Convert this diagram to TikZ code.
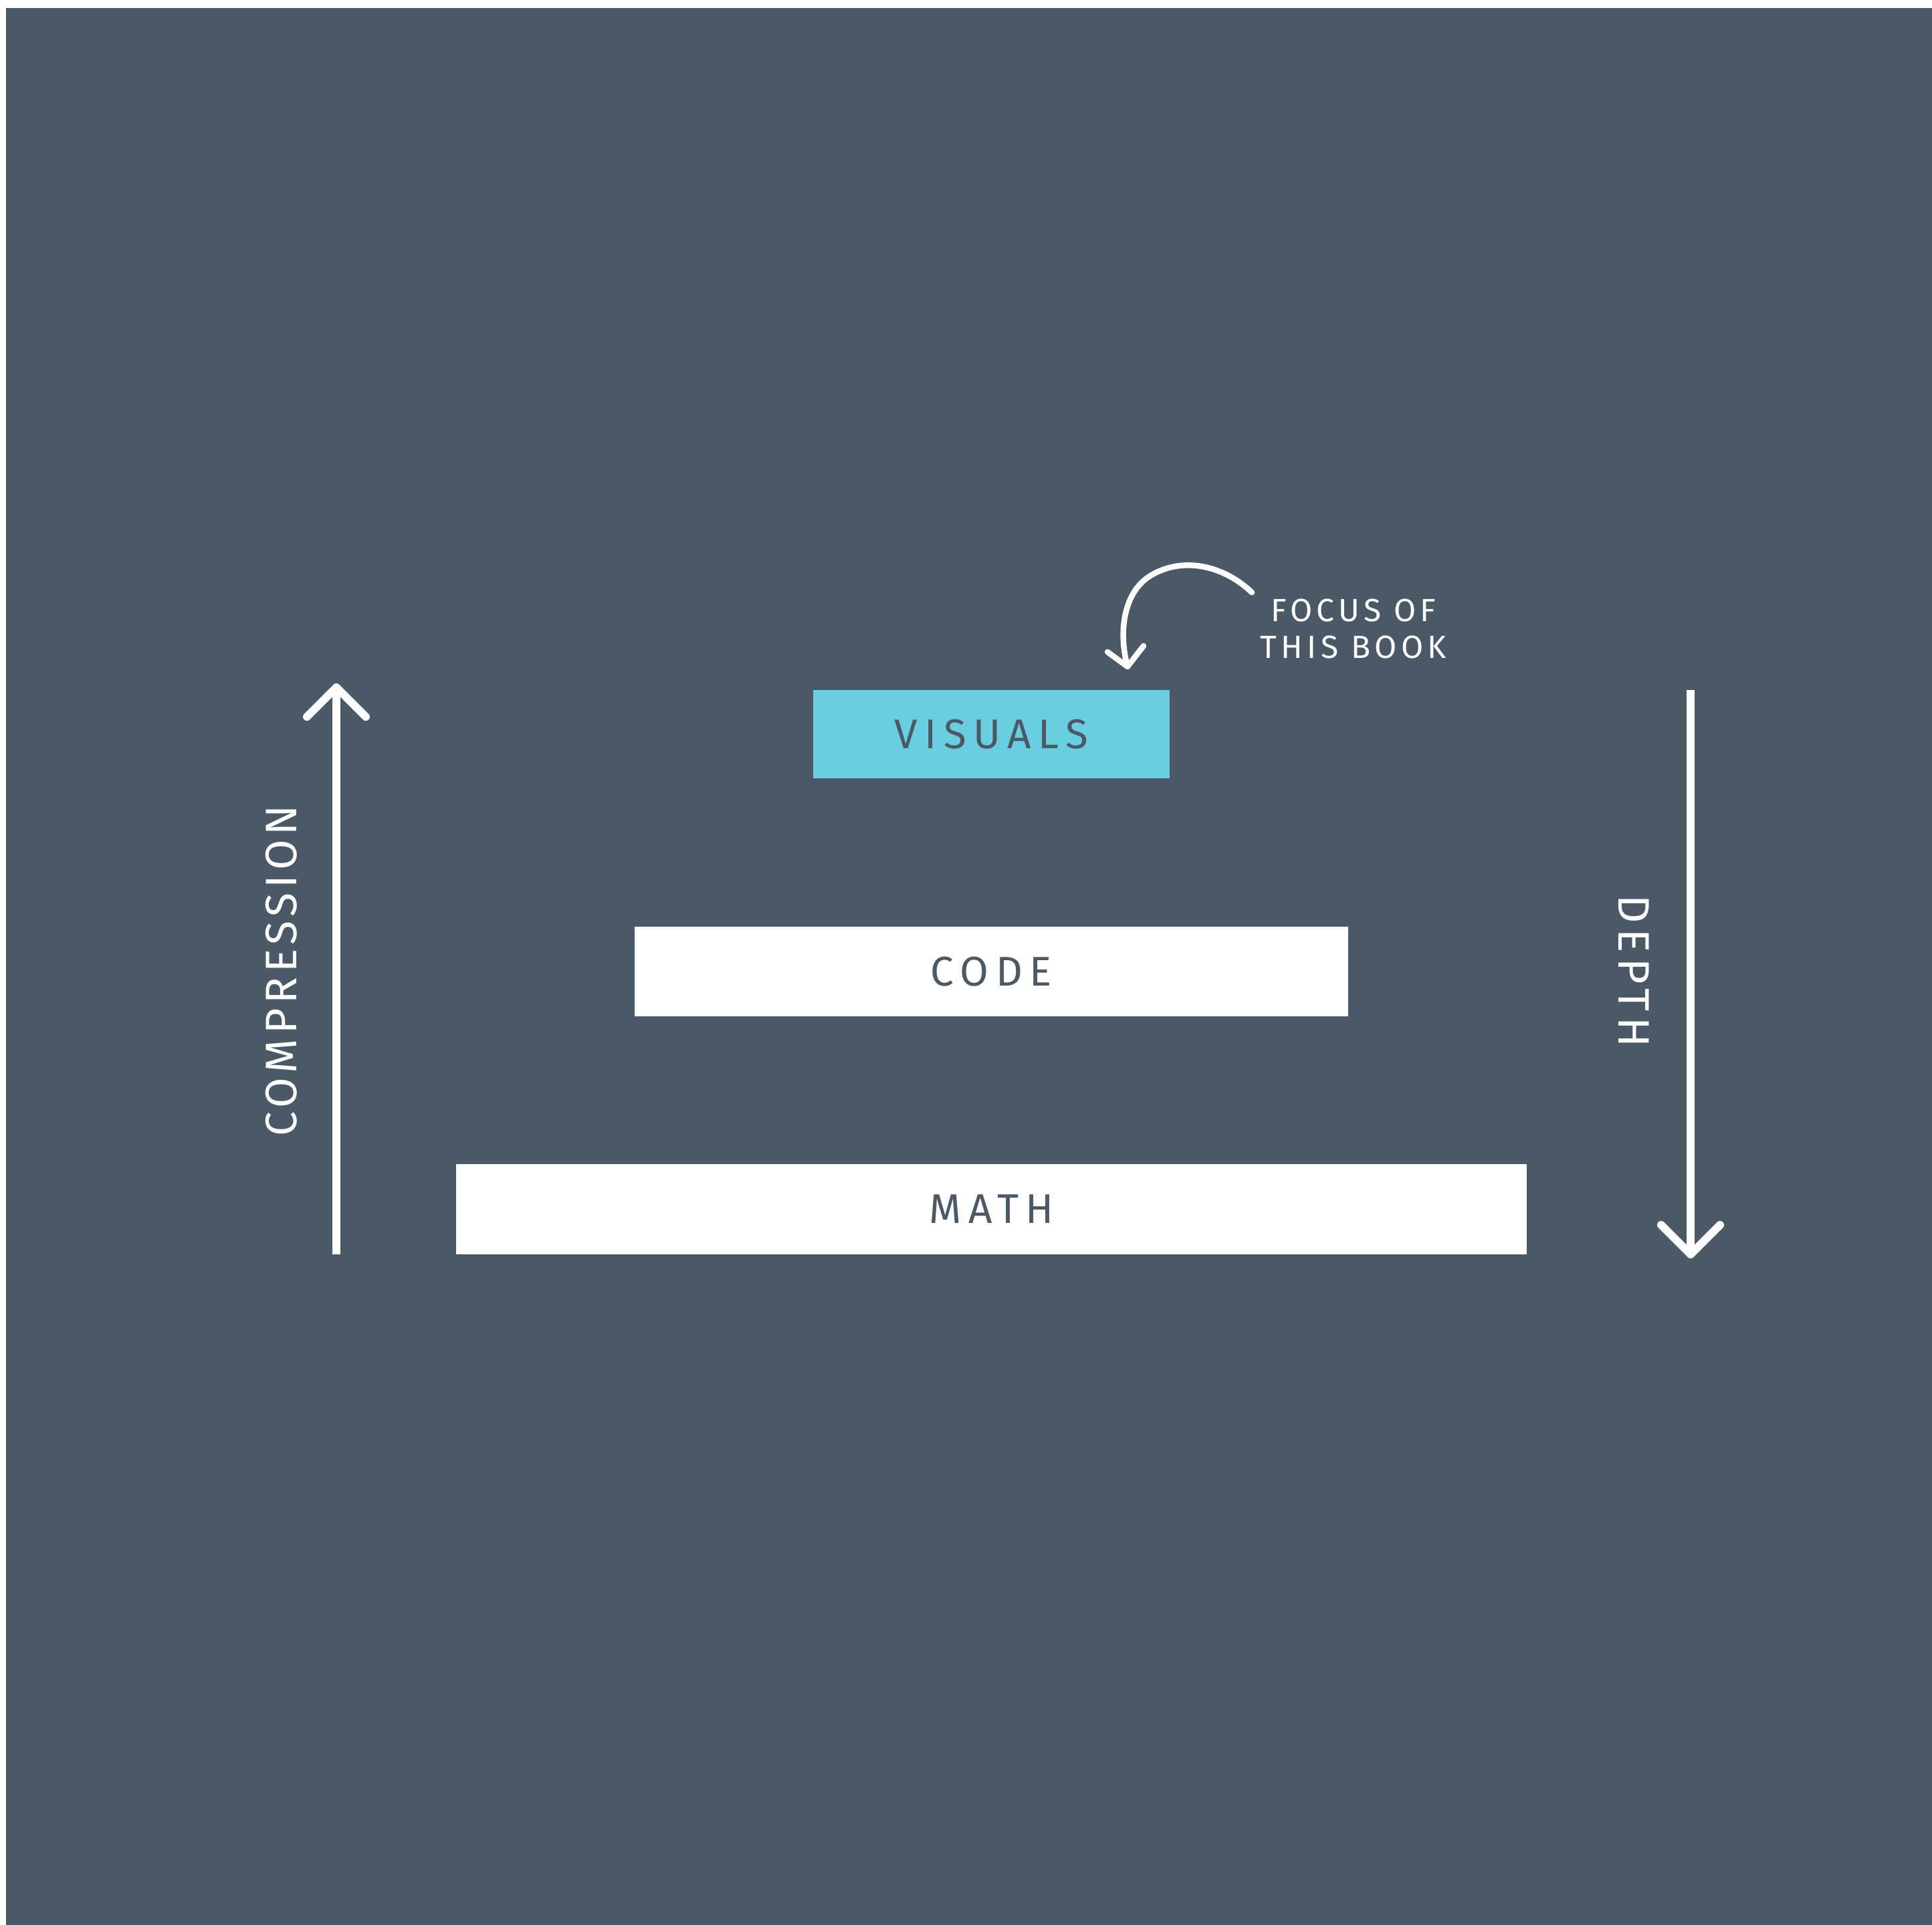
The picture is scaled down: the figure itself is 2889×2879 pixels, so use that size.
\documentclass[tikz,border=0pt]{standalone}
\usepackage{fontspec}
\setmainfont{Fira Sans}
\newfontfamily\boxfont[LetterSpace=17]{Fira Sans}
\newfontfamily\compfont[LetterSpace=10.5]{Fira Sans}
\newfontfamily\depthfont[LetterSpace=13]{Fira Sans}
\newfontfamily\focusfont[LetterSpace=13]{Fira Sans}
\definecolor{bgslate}{HTML}{4B5866}
\definecolor{cyanbox}{HTML}{69CEE0}
\begin{document}
\begin{tikzpicture}[x=1pt,y=-1pt,
  layer/.style={rectangle, inner sep=0pt, text=bgslate, font=\boxfont\fontsize{62}{70}\selectfont},
  axislabel/.style={text=white, inner sep=0pt},
  axisline/.style={draw=white, line width=12pt},
  headline/.style={draw=white, line width=12pt, line cap=round, line join=round},
  focusline/.style={draw=white, line width=8.5pt, line cap=round, line join=round}]
\useasboundingbox (0,0) rectangle (2889,2879);
\fill[white] (0,0) rectangle (2889,2879);
\fill[bgslate] (9,12) rectangle (2889,2879);
% layers
\node[layer, fill=cyanbox, minimum width=533pt, minimum height=132pt] (visuals) at (1482.5,1098) {VISUALS};
\node[layer, fill=white, minimum width=1067pt, minimum height=134pt] (code) at (1482.5,1453) {CODE};
\node[layer, fill=white, minimum width=1601pt, minimum height=135pt] (math) at (1482.5,1808.5) {MATH};
% compression arrow
\coordinate (cbot) at (503,1876);
\coordinate (ctop) at (503,1028);
\coordinate (cl) at (459,1072);
\coordinate (cr) at (547,1072);
\draw[axisline] (cbot) -- (ctop);
\draw[headline] (cl) -- (ctop) -- (cr);
\node[axislabel, rotate=90, font=\compfont\fontsize{66}{74}\selectfont] (comp) at (421,1452) {COMPRESSION};
% depth arrow
\coordinate (dtop) at (2528,1032);
\coordinate (dbot) at (2528,1876);
\coordinate (dl) at (2484,1832);
\coordinate (dr) at (2572,1832);
\draw[axisline] (dtop) -- (dbot);
\draw[headline] (dl) -- (dbot) -- (dr);
\node[axislabel, rotate=-90, font=\depthfont\fontsize{66}{74}\selectfont] (depth) at (2443,1452) {DEPTH};
% focus annotation
\node[text=white, inner sep=0pt, align=center, font=\focusfont\fontsize{48}{55}\selectfont] (focus) at (2024,940) {FOCUS OF\\THIS BOOK};
\coordinate (fstart) at (1872,886);
\coordinate (ftip) at (1686,997);
\coordinate (fa) at (1656,975);
\coordinate (fb) at (1710,966);
\draw[focusline] (fstart) .. controls (1830,846) and (1770,832) .. (1722,860) .. controls (1680,884) and (1672,945) .. (ftip);
\draw[focusline] (fa) -- (ftip) -- (fb);
\end{tikzpicture}
\end{document}
